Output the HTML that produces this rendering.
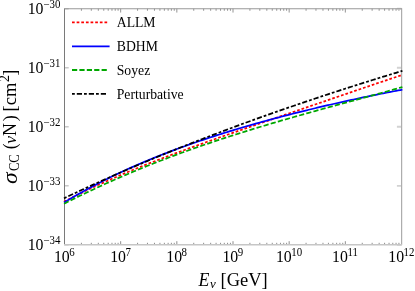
<!DOCTYPE html>
<html><head><meta charset="utf-8"><style>
html,body{margin:0;padding:0;background:#fff;}
body{width:415px;height:291px;overflow:hidden;}
svg{display:block;}
text{font-family:"Liberation Serif",serif;fill:#000;}
</style></head><body>
<svg width="415" height="291" viewBox="0 0 415 291">
<rect width="415" height="291" fill="#fff"/>

<path d="M81.41,244.7v-1.9M91.30,244.7v-1.9M98.32,244.7v-1.9M103.76,244.7v-1.9M108.21,244.7v-1.9M111.97,244.7v-1.9M115.22,244.7v-1.9M118.10,244.7v-1.9M120.67,244.7v-3.5M137.57,244.7v-1.9M147.46,244.7v-1.9M154.48,244.7v-1.9M159.93,244.7v-1.9M164.37,244.7v-1.9M168.13,244.7v-1.9M171.39,244.7v-1.9M174.26,244.7v-1.9M176.83,244.7v-3.5M193.74,244.7v-1.9M203.63,244.7v-1.9M210.65,244.7v-1.9M216.09,244.7v-1.9M220.54,244.7v-1.9M224.30,244.7v-1.9M227.56,244.7v-1.9M230.43,244.7v-1.9M233.00,244.7v-3.5M249.91,244.7v-1.9M259.80,244.7v-1.9M266.82,244.7v-1.9M272.26,244.7v-1.9M276.71,244.7v-1.9M280.47,244.7v-1.9M283.72,244.7v-1.9M286.60,244.7v-1.9M289.17,244.7v-3.5M306.07,244.7v-1.9M315.96,244.7v-1.9M322.98,244.7v-1.9M328.43,244.7v-1.9M332.87,244.7v-1.9M336.63,244.7v-1.9M339.89,244.7v-1.9M342.76,244.7v-1.9M345.33,244.7v-3.5M362.24,244.7v-1.9M372.13,244.7v-1.9M379.15,244.7v-1.9M384.59,244.7v-1.9M389.04,244.7v-1.9M392.80,244.7v-1.9M396.06,244.7v-1.9M398.93,244.7v-1.9" stroke="#828282" stroke-width="0.9" fill="none"/>
<path d="M81.41,8.65v2.1M91.30,8.65v2.1M98.32,8.65v2.1M103.76,8.65v2.1M108.21,8.65v2.1M111.97,8.65v2.1M115.22,8.65v2.1M118.10,8.65v2.1M120.67,8.65v3.9M137.57,8.65v2.1M147.46,8.65v2.1M154.48,8.65v2.1M159.93,8.65v2.1M164.37,8.65v2.1M168.13,8.65v2.1M171.39,8.65v2.1M174.26,8.65v2.1M176.83,8.65v3.9M193.74,8.65v2.1M203.63,8.65v2.1M210.65,8.65v2.1M216.09,8.65v2.1M220.54,8.65v2.1M224.30,8.65v2.1M227.56,8.65v2.1M230.43,8.65v2.1M233.00,8.65v3.9M249.91,8.65v2.1M259.80,8.65v2.1M266.82,8.65v2.1M272.26,8.65v2.1M276.71,8.65v2.1M280.47,8.65v2.1M283.72,8.65v2.1M286.60,8.65v2.1M289.17,8.65v3.9M306.07,8.65v2.1M315.96,8.65v2.1M322.98,8.65v2.1M328.43,8.65v2.1M332.87,8.65v2.1M336.63,8.65v2.1M339.89,8.65v2.1M342.76,8.65v2.1M345.33,8.65v3.9M362.24,8.65v2.1M372.13,8.65v2.1M379.15,8.65v2.1M384.59,8.65v2.1M389.04,8.65v2.1M392.80,8.65v2.1M396.06,8.65v2.1M398.93,8.65v2.1" stroke="#888" stroke-width="0.9" fill="none"/>
<path d="M64.5,8.75h4.2M64.5,67.76h4.2M64.5,126.77h4.2M64.5,185.79h4.2M64.5,244.80h4.2" stroke="#c8c8c8" stroke-width="1.4" fill="none"/>
<path d="M401.5,8.75h-4.6M401.5,67.76h-4.6M401.5,126.77h-4.6M401.5,185.79h-4.6M401.5,244.80h-4.6" stroke="#d2d2d2" stroke-width="1.8" fill="none"/>
<line x1="64.5" y1="8.65" x2="64.5" y2="244.7" stroke="#7a7a7a" stroke-width="1"/>
<line x1="401.6" y1="8.65" x2="401.6" y2="244.7" stroke="#adadad" stroke-width="1.25"/>
<line x1="64.0" y1="8.65" x2="402.1" y2="8.65" stroke="#999" stroke-width="1.05"/>
<line x1="64.0" y1="244.7" x2="402.1" y2="244.7" stroke="#c6c6c6" stroke-width="1.5"/>
<clipPath id="c"><rect x="64.5" y="8.5" width="337.0" height="236.0"/></clipPath>
<g fill="none">
<path d="M64.00,201.74 L66.13,200.63 L68.26,199.52 L70.38,198.43 L72.51,197.35 L74.64,196.27 L76.77,195.20 L78.90,194.15 L81.03,193.10 L83.15,192.06 L85.28,191.03 L87.41,190.01 L89.54,189.00 L91.67,187.99 L93.80,187.00 L95.92,186.01 L98.05,185.03 L100.18,184.05 L102.31,183.09 L104.44,182.13 L106.57,181.18 L108.69,180.23 L110.82,179.29 L112.95,178.36 L115.08,177.44 L117.21,176.52 L119.34,175.60 L121.46,174.70 L123.59,173.80 L125.72,172.90 L127.85,172.01 L129.98,171.13 L132.11,170.25 L134.23,169.38 L136.36,168.51 L138.49,167.65 L140.62,166.79 L142.75,165.94 L144.88,165.09 L147.00,164.25 L149.13,163.41 L151.26,162.57 L153.39,161.74 L155.52,160.92 L157.65,160.10 L159.77,159.28 L161.90,158.46 L164.03,157.65 L166.16,156.84 L168.29,156.04 L170.42,155.24 L172.54,154.44 L174.67,153.64 L176.80,152.85 L178.93,152.06 L181.06,151.28 L183.18,150.50 L185.31,149.72 L187.44,148.94 L189.57,148.16 L191.70,147.39 L193.83,146.62 L195.95,145.85 L198.08,145.08 L200.21,144.32 L202.34,143.56 L204.47,142.80 L206.60,142.04 L208.72,141.28 L210.85,140.53 L212.98,139.77 L215.11,139.02 L217.24,138.27 L219.37,137.52 L221.49,136.77 L223.62,136.03 L225.75,135.28 L227.88,134.54 L230.01,133.79 L232.14,133.05 L234.26,132.31 L236.39,131.57 L238.52,130.83 L240.65,130.09 L242.78,129.36 L244.91,128.62 L247.03,127.88 L249.16,127.15 L251.29,126.41 L253.42,125.68 L255.55,124.94 L257.68,124.21 L259.80,123.48 L261.93,122.74 L264.06,122.01 L266.19,121.28 L268.32,120.55 L270.45,119.82 L272.57,119.09 L274.70,118.36 L276.83,117.62 L278.96,116.89 L281.09,116.16 L283.22,115.43 L285.34,114.70 L287.47,113.97 L289.60,113.24 L291.73,112.51 L293.86,111.78 L295.98,111.05 L298.11,110.33 L300.24,109.60 L302.37,108.87 L304.50,108.14 L306.63,107.41 L308.75,106.68 L310.88,105.95 L313.01,105.22 L315.14,104.49 L317.27,103.76 L319.40,103.03 L321.52,102.30 L323.65,101.57 L325.78,100.84 L327.91,100.11 L330.04,99.39 L332.17,98.66 L334.29,97.93 L336.42,97.20 L338.55,96.47 L340.68,95.74 L342.81,95.02 L344.94,94.29 L347.06,93.56 L349.19,92.83 L351.32,92.11 L353.45,91.38 L355.58,90.66 L357.71,89.93 L359.83,89.21 L361.96,88.48 L364.09,87.76 L366.22,87.04 L368.35,86.31 L370.48,85.59 L372.60,84.87 L374.73,84.15 L376.86,83.43 L378.99,82.71 L381.12,82.00 L383.25,81.28 L385.37,80.56 L387.50,79.85 L389.63,79.14 L391.76,78.42 L393.89,77.71 L396.02,77.00 L398.14,76.30 L400.27,75.59 L402.40,74.89" stroke="#ff0000" stroke-width="1.75" stroke-dasharray="2.7 1.94"/>
<path d="M64.00,202.62 L66.13,201.33 L68.26,200.06 L70.38,198.80 L72.51,197.55 L74.64,196.31 L76.77,195.09 L78.90,193.88 L81.03,192.68 L83.15,191.49 L85.28,190.32 L87.41,189.15 L89.54,188.00 L91.67,186.86 L93.80,185.73 L95.92,184.61 L98.05,183.50 L100.18,182.41 L102.31,181.32 L104.44,180.25 L106.57,179.18 L108.69,178.13 L110.82,177.08 L112.95,176.05 L115.08,175.02 L117.21,174.01 L119.34,173.00 L121.46,172.00 L123.59,171.02 L125.72,170.04 L127.85,169.07 L129.98,168.11 L132.11,167.16 L134.23,166.22 L136.36,165.29 L138.49,164.36 L140.62,163.45 L142.75,162.54 L144.88,161.64 L147.00,160.75 L149.13,159.86 L151.26,158.99 L153.39,158.12 L155.52,157.26 L157.65,156.41 L159.77,155.56 L161.90,154.72 L164.03,153.89 L166.16,153.07 L168.29,152.25 L170.42,151.44 L172.54,150.64 L174.67,149.84 L176.80,149.05 L178.93,148.27 L181.06,147.49 L183.18,146.72 L185.31,145.96 L187.44,145.20 L189.57,144.44 L191.70,143.70 L193.83,142.96 L195.95,142.22 L198.08,141.49 L200.21,140.77 L202.34,140.05 L204.47,139.34 L206.60,138.63 L208.72,137.93 L210.85,137.24 L212.98,136.55 L215.11,135.86 L217.24,135.18 L219.37,134.50 L221.49,133.83 L223.62,133.17 L225.75,132.50 L227.88,131.85 L230.01,131.19 L232.14,130.55 L234.26,129.90 L236.39,129.26 L238.52,128.63 L240.65,128.00 L242.78,127.37 L244.91,126.75 L247.03,126.13 L249.16,125.52 L251.29,124.91 L253.42,124.30 L255.55,123.70 L257.68,123.10 L259.80,122.51 L261.93,121.92 L264.06,121.33 L266.19,120.74 L268.32,120.16 L270.45,119.59 L272.57,119.01 L274.70,118.44 L276.83,117.88 L278.96,117.32 L281.09,116.76 L283.22,116.20 L285.34,115.65 L287.47,115.10 L289.60,114.55 L291.73,114.01 L293.86,113.47 L295.98,112.93 L298.11,112.39 L300.24,111.86 L302.37,111.33 L304.50,110.81 L306.63,110.29 L308.75,109.77 L310.88,109.25 L313.01,108.74 L315.14,108.23 L317.27,107.72 L319.40,107.21 L321.52,106.71 L323.65,106.21 L325.78,105.71 L327.91,105.22 L330.04,104.73 L332.17,104.24 L334.29,103.75 L336.42,103.27 L338.55,102.79 L340.68,102.31 L342.81,101.84 L344.94,101.36 L347.06,100.89 L349.19,100.43 L351.32,99.96 L353.45,99.50 L355.58,99.04 L357.71,98.58 L359.83,98.13 L361.96,97.68 L364.09,97.23 L366.22,96.78 L368.35,96.34 L370.48,95.90 L372.60,95.46 L374.73,95.03 L376.86,94.59 L378.99,94.17 L381.12,93.74 L383.25,93.31 L385.37,92.89 L387.50,92.47 L389.63,92.06 L391.76,91.65 L393.89,91.24 L396.02,90.83 L398.14,90.43 L400.27,90.02 L402.40,89.63" stroke="#0000ff" stroke-width="1.75"/>
<path d="M64.00,203.75 L66.13,202.67 L68.26,201.59 L70.38,200.52 L72.51,199.46 L74.64,198.40 L76.77,197.35 L78.90,196.30 L81.03,195.27 L83.15,194.23 L85.28,193.21 L87.41,192.19 L89.54,191.18 L91.67,190.17 L93.80,189.17 L95.92,188.17 L98.05,187.19 L100.18,186.20 L102.31,185.23 L104.44,184.26 L106.57,183.29 L108.69,182.33 L110.82,181.38 L112.95,180.44 L115.08,179.50 L117.21,178.56 L119.34,177.63 L121.46,176.71 L123.59,175.79 L125.72,174.88 L127.85,173.97 L129.98,173.07 L132.11,172.18 L134.23,171.29 L136.36,170.40 L138.49,169.53 L140.62,168.65 L142.75,167.78 L144.88,166.92 L147.00,166.06 L149.13,165.21 L151.26,164.36 L153.39,163.52 L155.52,162.69 L157.65,161.85 L159.77,161.03 L161.90,160.21 L164.03,159.39 L166.16,158.58 L168.29,157.77 L170.42,156.97 L172.54,156.17 L174.67,155.38 L176.80,154.59 L178.93,153.81 L181.06,153.03 L183.18,152.25 L185.31,151.48 L187.44,150.72 L189.57,149.96 L191.70,149.20 L193.83,148.45 L195.95,147.70 L198.08,146.95 L200.21,146.22 L202.34,145.48 L204.47,144.75 L206.60,144.02 L208.72,143.30 L210.85,142.58 L212.98,141.86 L215.11,141.15 L217.24,140.44 L219.37,139.74 L221.49,139.04 L223.62,138.34 L225.75,137.65 L227.88,136.96 L230.01,136.27 L232.14,135.59 L234.26,134.91 L236.39,134.23 L238.52,133.56 L240.65,132.89 L242.78,132.22 L244.91,131.56 L247.03,130.90 L249.16,130.24 L251.29,129.58 L253.42,128.93 L255.55,128.28 L257.68,127.64 L259.80,126.99 L261.93,126.35 L264.06,125.72 L266.19,125.08 L268.32,124.45 L270.45,123.82 L272.57,123.19 L274.70,122.56 L276.83,121.94 L278.96,121.32 L281.09,120.70 L283.22,120.08 L285.34,119.47 L287.47,118.86 L289.60,118.25 L291.73,117.64 L293.86,117.03 L295.98,116.43 L298.11,115.82 L300.24,115.22 L302.37,114.62 L304.50,114.02 L306.63,113.42 L308.75,112.83 L310.88,112.24 L313.01,111.64 L315.14,111.05 L317.27,110.46 L319.40,109.87 L321.52,109.28 L323.65,108.70 L325.78,108.11 L327.91,107.52 L330.04,106.94 L332.17,106.36 L334.29,105.77 L336.42,105.19 L338.55,104.61 L340.68,104.03 L342.81,103.45 L344.94,102.86 L347.06,102.28 L349.19,101.70 L351.32,101.12 L353.45,100.55 L355.58,99.97 L357.71,99.39 L359.83,98.81 L361.96,98.23 L364.09,97.65 L366.22,97.07 L368.35,96.48 L370.48,95.90 L372.60,95.32 L374.73,94.74 L376.86,94.16 L378.99,93.57 L381.12,92.99 L383.25,92.40 L385.37,91.82 L387.50,91.23 L389.63,90.64 L391.76,90.05 L393.89,89.46 L396.02,88.87 L398.14,88.28 L400.27,87.69 L402.40,87.09" stroke="#00a800" stroke-width="1.75" stroke-dasharray="5.2 2.2"/>
<path d="M64.00,198.34 L66.13,197.32 L68.26,196.31 L70.38,195.30 L72.51,194.29 L74.64,193.28 L76.77,192.28 L78.90,191.29 L81.03,190.29 L83.15,189.31 L85.28,188.32 L87.41,187.34 L89.54,186.36 L91.67,185.38 L93.80,184.41 L95.92,183.44 L98.05,182.48 L100.18,181.52 L102.31,180.56 L104.44,179.61 L106.57,178.66 L108.69,177.71 L110.82,176.76 L112.95,175.82 L115.08,174.88 L117.21,173.95 L119.34,173.02 L121.46,172.09 L123.59,171.16 L125.72,170.24 L127.85,169.32 L129.98,168.41 L132.11,167.49 L134.23,166.58 L136.36,165.68 L138.49,164.77 L140.62,163.87 L142.75,162.98 L144.88,162.08 L147.00,161.19 L149.13,160.30 L151.26,159.41 L153.39,158.53 L155.52,157.65 L157.65,156.77 L159.77,155.90 L161.90,155.03 L164.03,154.16 L166.16,153.29 L168.29,152.43 L170.42,151.57 L172.54,150.71 L174.67,149.85 L176.80,149.00 L178.93,148.15 L181.06,147.30 L183.18,146.46 L185.31,145.61 L187.44,144.78 L189.57,143.94 L191.70,143.10 L193.83,142.27 L195.95,141.44 L198.08,140.61 L200.21,139.79 L202.34,138.97 L204.47,138.15 L206.60,137.33 L208.72,136.51 L210.85,135.70 L212.98,134.89 L215.11,134.08 L217.24,133.28 L219.37,132.48 L221.49,131.67 L223.62,130.88 L225.75,130.08 L227.88,129.29 L230.01,128.49 L232.14,127.70 L234.26,126.92 L236.39,126.13 L238.52,125.35 L240.65,124.57 L242.78,123.79 L244.91,123.01 L247.03,122.24 L249.16,121.47 L251.29,120.70 L253.42,119.93 L255.55,119.16 L257.68,118.40 L259.80,117.64 L261.93,116.88 L264.06,116.12 L266.19,115.37 L268.32,114.61 L270.45,113.86 L272.57,113.11 L274.70,112.37 L276.83,111.62 L278.96,110.88 L281.09,110.14 L283.22,109.40 L285.34,108.66 L287.47,107.92 L289.60,107.19 L291.73,106.46 L293.86,105.73 L295.98,105.00 L298.11,104.28 L300.24,103.55 L302.37,102.83 L304.50,102.11 L306.63,101.39 L308.75,100.67 L310.88,99.96 L313.01,99.25 L315.14,98.53 L317.27,97.83 L319.40,97.12 L321.52,96.41 L323.65,95.71 L325.78,95.01 L327.91,94.31 L330.04,93.61 L332.17,92.91 L334.29,92.21 L336.42,91.52 L338.55,90.83 L340.68,90.14 L342.81,89.45 L344.94,88.77 L347.06,88.08 L349.19,87.40 L351.32,86.72 L353.45,86.04 L355.58,85.36 L357.71,84.68 L359.83,84.01 L361.96,83.34 L364.09,82.66 L366.22,81.99 L368.35,81.33 L370.48,80.66 L372.60,80.00 L374.73,79.33 L376.86,78.67 L378.99,78.01 L381.12,77.35 L383.25,76.70 L385.37,76.04 L387.50,75.39 L389.63,74.74 L391.76,74.09 L393.89,73.44 L396.02,72.80 L398.14,72.15 L400.27,71.51 L402.40,70.87" stroke="#000" stroke-width="1.75" stroke-dasharray="2.8 2 5.2 2"/>
</g>
<filter id="nf" x="0" y="0" width="415" height="291" filterUnits="userSpaceOnUse" color-interpolation-filters="sRGB"><feGaussianBlur stdDeviation="0.32"/></filter><g filter="url(#nf)">
<text x="27.65" y="14.10" font-size="15.8">10</text>
<text x="43.25" y="8.15" font-size="10.9">−</text>
<text transform="translate(49.50,7.80) scale(1,1.15)" font-size="10.9">30</text>
<text x="27.65" y="73.11" font-size="15.8">10</text>
<text x="43.25" y="67.16" font-size="10.9">−</text>
<text transform="translate(49.50,66.81) scale(1,1.15)" font-size="10.9">31</text>
<text x="27.65" y="132.12" font-size="15.8">10</text>
<text x="43.25" y="126.17" font-size="10.9">−</text>
<text transform="translate(49.50,125.83) scale(1,1.15)" font-size="10.9">32</text>
<text x="27.65" y="191.14" font-size="15.8">10</text>
<text x="43.25" y="185.19" font-size="10.9">−</text>
<text transform="translate(49.50,184.84) scale(1,1.15)" font-size="10.9">33</text>
<text x="27.65" y="250.15" font-size="15.8">10</text>
<text x="43.25" y="244.20" font-size="10.9">−</text>
<text transform="translate(49.50,243.85) scale(1,1.15)" font-size="10.9">34</text>
<text x="53.97" y="261.6" font-size="15.8">10</text>
<text transform="translate(69.27,255.90) scale(1,1.15)" font-size="10.9">6</text>
<text x="110.14" y="261.6" font-size="15.8">10</text>
<text transform="translate(125.44,255.90) scale(1,1.15)" font-size="10.9">7</text>
<text x="166.31" y="261.6" font-size="15.8">10</text>
<text transform="translate(181.61,255.90) scale(1,1.15)" font-size="10.9">8</text>
<text x="222.47" y="261.6" font-size="15.8">10</text>
<text transform="translate(237.78,255.90) scale(1,1.15)" font-size="10.9">9</text>
<text x="275.92" y="261.6" font-size="15.8">10</text>
<text transform="translate(291.22,255.90) scale(1,1.15)" font-size="10.9">10</text>
<text x="332.08" y="261.6" font-size="15.8">10</text>
<text transform="translate(347.38,255.90) scale(1,1.15)" font-size="10.9">11</text>
<text x="388.25" y="261.6" font-size="15.8">10</text>
<text transform="translate(403.55,255.90) scale(1,1.15)" font-size="10.9">12</text>
<g fill="none">
<path d="M72,22.4h35.3" stroke="#ff0000" stroke-width="1.8" stroke-dasharray="2.7 1.94"/>
<path d="M72,46.3h37.6" stroke="#0000ff" stroke-width="1.75"/>
<path d="M72,70.0h35.3" stroke="#00a800" stroke-width="1.8" stroke-dasharray="5.2 2.2"/>
<path d="M72,93.9h35" stroke="#000" stroke-width="1.8" stroke-dasharray="2.8 2 5.2 2"/>
</g>
<text x="116.75" y="27.00" font-size="13.7">ALLM</text>
<text x="116.75" y="50.90" font-size="13.7">BDHM</text>
<text x="116.75" y="74.60" font-size="13.7">Soyez</text>
<text x="116.75" y="98.50" font-size="13.7">Perturbative</text>
<text x="198.4" y="285.9" font-size="17.8" font-style="italic">E</text>
<text x="210.0" y="288.29999999999995" font-size="13.0" font-style="italic">ν</text>
<text x="220.5" y="285.9" font-size="18.5">[GeV]</text>
<text transform="translate(16.599999999999998,183.9) rotate(-90) scale(1.15,1)" font-size="20.5" font-style="italic">σ</text>
<text transform="translate(18.799999999999997,171.1) rotate(-90) scale(1,1.2)" font-size="12.6">CC</text>
<text transform="translate(16.4,149.3) rotate(-90)" font-size="17.9">(</text>
<text transform="translate(16.4,143.8) rotate(-90)" font-size="17.6" font-style="italic">ν</text>
<text transform="translate(16.4,136.0) rotate(-90)" font-size="17.9">N</text>
<text transform="translate(16.4,121.3) rotate(-90)" font-size="17.9">)</text>
<text transform="translate(16.4,111.4) rotate(-90)" font-size="18.5">[cm</text>
<text transform="translate(8.7,82.0) rotate(-90)" font-size="13.8">2</text>
<text transform="translate(16.4,75.7) rotate(-90)" font-size="18.5">]</text>
</g>
</svg></body></html>
